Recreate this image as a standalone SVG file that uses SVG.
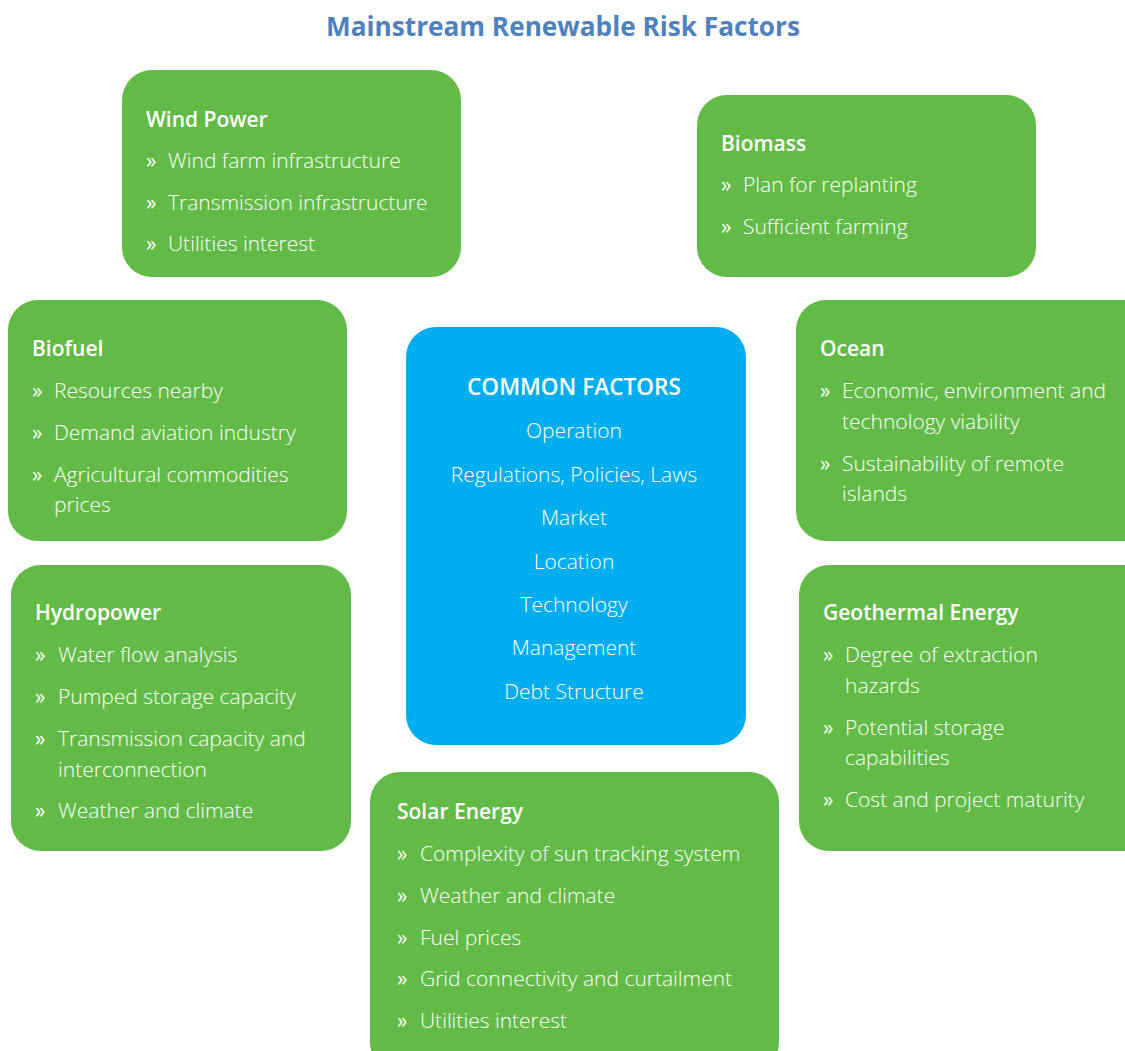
<svg xmlns="http://www.w3.org/2000/svg" width="1125" height="1051" viewBox="0 0 1125 1051">
<style>
.box{fill:#62BB46;}
.cbox{fill:#00AEEF;}
.h{font-family:"Open Sans","Liberation Sans",sans-serif;font-weight:600;font-size:21px;fill:#FFFFFF;}
.t{font-family:"Open Sans","Liberation Sans",sans-serif;font-weight:300;font-size:21px;fill:#FFFFFF;}
.b{font-family:"Open Sans","Liberation Sans",sans-serif;font-weight:400;font-size:21px;fill:#FFFFFF;}
.c{text-anchor:middle;}
.title{font-family:"Open Sans","Liberation Sans",sans-serif;font-weight:700;font-size:26px;fill:#4F81BD;text-anchor:middle;}
</style>
<rect width="1125" height="1051" fill="#FFFFFF"/>
<text class="title" x="563" y="36" textLength="474" lengthAdjust="spacingAndGlyphs">Mainstream Renewable Risk Factors</text>

<g id="wind-power">
<rect class="box" x="122" y="70" width="339" height="207" rx="30"/>
<text class="h" x="146" y="127">Wind Power</text>
<text class="b" x="146" y="168">»</text><text class="t" x="168" y="168">Wind farm infrastructure</text>
<text class="b" x="146" y="210">»</text><text class="t" x="168" y="210">Transmission infrastructure</text>
<text class="b" x="146" y="251">»</text><text class="t" x="168" y="251">Utilities interest</text>
</g>

<g id="biomass">
<rect class="box" x="697" y="95" width="339" height="182" rx="30"/>
<text class="h" x="721" y="151">Biomass</text>
<text class="b" x="721" y="192">»</text><text class="t" x="743" y="192">Plan for replanting</text>
<text class="b" x="721" y="234">»</text><text class="t" x="743" y="234">Sufficient farming</text>
</g>

<g id="biofuel">
<rect class="box" x="8" y="300" width="339" height="241" rx="30"/>
<text class="h" x="32" y="356">Biofuel</text>
<text class="b" x="32" y="398">»</text><text class="t" x="54" y="398">Resources nearby</text>
<text class="b" x="32" y="440">»</text><text class="t" x="54" y="440">Demand aviation industry</text>
<text class="b" x="32" y="482">»</text><text class="t" x="54" y="482">Agricultural commodities</text>
<text class="t" x="54" y="512">prices</text>
</g>

<g id="ocean">
<rect class="box" x="796" y="300" width="360" height="241" rx="30"/>
<text class="h" x="820" y="356">Ocean</text>
<text class="b" x="820" y="398">»</text><text class="t" x="842" y="398">Economic, environment and</text>
<text class="t" x="842" y="429">technology viability</text>
<text class="b" x="820" y="471">»</text><text class="t" x="842" y="471">Sustainability of remote</text>
<text class="t" x="842" y="501">islands</text>
</g>

<g id="hydropower">
<rect class="box" x="11" y="565" width="340" height="286" rx="30"/>
<text class="h" x="35" y="620">Hydropower</text>
<text class="b" x="35" y="662">»</text><text class="t" x="58" y="662">Water flow analysis</text>
<text class="b" x="35" y="704">»</text><text class="t" x="58" y="704">Pumped storage capacity</text>
<text class="b" x="35" y="746">»</text><text class="t" x="58" y="746">Transmission capacity and</text>
<text class="t" x="58" y="777">interconnection</text>
<text class="b" x="35" y="818">»</text><text class="t" x="58" y="818">Weather and climate</text>
</g>

<g id="geothermal">
<rect class="box" x="799" y="565" width="360" height="286" rx="30"/>
<text class="h" x="823" y="620">Geothermal Energy</text>
<text class="b" x="823" y="662">»</text><text class="t" x="845" y="662">Degree of extraction</text>
<text class="t" x="845" y="693">hazards</text>
<text class="b" x="823" y="735">»</text><text class="t" x="845" y="735">Potential storage</text>
<text class="t" x="845" y="765">capabilities</text>
<text class="b" x="823" y="807">»</text><text class="t" x="845" y="807">Cost and project maturity</text>
</g>

<g id="common-factors">
<rect class="cbox" x="406" y="327" width="340" height="418" rx="30"/>
<text class="h c" x="574" y="395" style="font-size:22.5px" textLength="214" lengthAdjust="spacingAndGlyphs">COMMON FACTORS</text>
<text class="t c" x="574" y="438">Operation</text>
<text class="t c" x="574" y="482">Regulations, Policies, Laws</text>
<text class="t c" x="574" y="525">Market</text>
<text class="t c" x="574" y="569">Location</text>
<text class="t c" x="574" y="612">Technology</text>
<text class="t c" x="574" y="655">Management</text>
<text class="t c" x="574" y="699">Debt Structure</text>
</g>

<g id="solar-energy">
<rect class="box" x="370" y="772" width="409" height="300" rx="30"/>
<text class="h" x="397" y="819">Solar Energy</text>
<text class="b" x="397" y="861">»</text><text class="t" x="420" y="861">Complexity of sun tracking system</text>
<text class="b" x="397" y="903">»</text><text class="t" x="420" y="903">Weather and climate</text>
<text class="b" x="397" y="945">»</text><text class="t" x="420" y="945">Fuel prices</text>
<text class="b" x="397" y="986">»</text><text class="t" x="420" y="986">Grid connectivity and curtailment</text>
<text class="b" x="397" y="1028">»</text><text class="t" x="420" y="1028">Utilities interest</text>
</g>

<g id="connectors"></g>
</svg>
